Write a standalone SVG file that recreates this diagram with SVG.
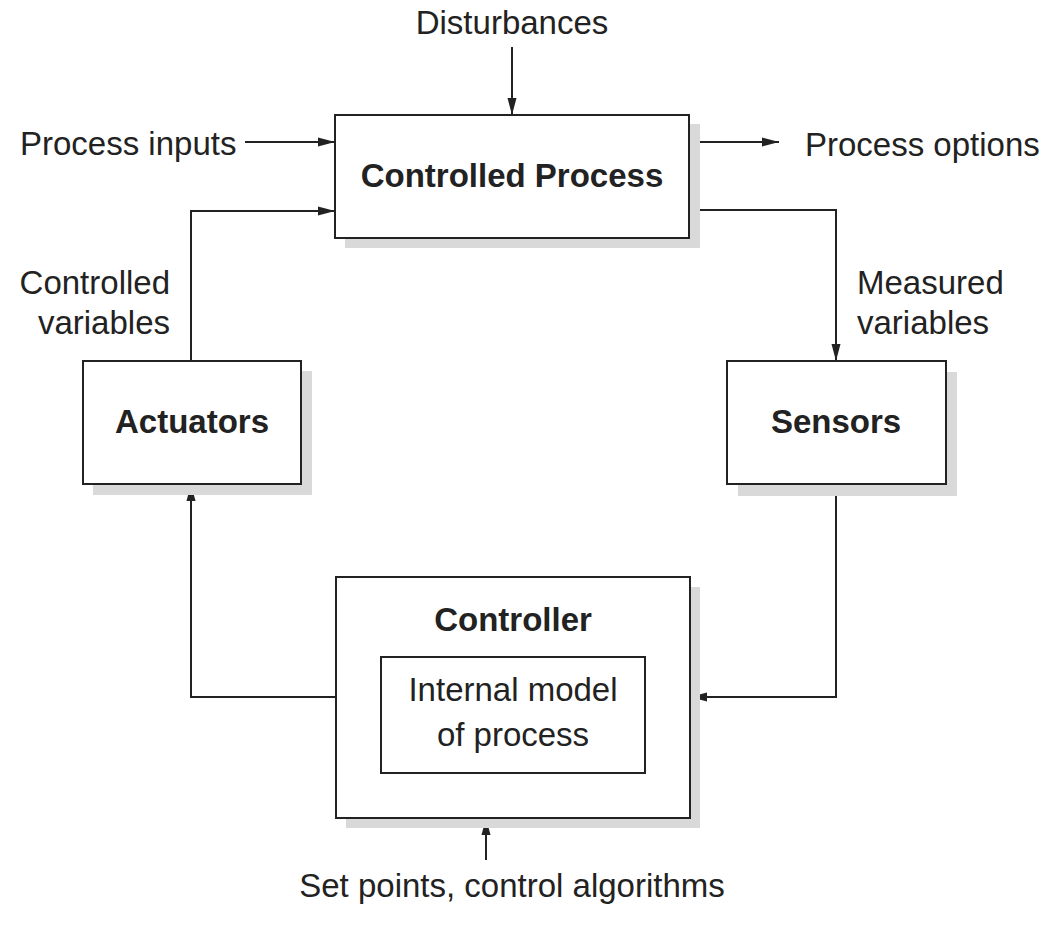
<svg xmlns="http://www.w3.org/2000/svg" width="1049" height="936" viewBox="0 0 1049 936">
<style>
.box{fill:#fff;stroke:#222;stroke-width:2}
.shadow{fill:#d9d9d9}
.t{font-family:"Liberation Sans",Arial,sans-serif;font-size:33px;fill:#222}
.b{font-weight:bold}
.c{stroke:#222;stroke-width:2;fill:none;marker-end:url(#ah)}
</style>
<defs>
<marker id="ah" markerUnits="userSpaceOnUse" markerWidth="18" markerHeight="12" refX="17" refY="6" orient="auto">
<path d="M0,1.5 L17,6 L0,10.5 z" fill="#222"/>
</marker>
</defs>
<rect width="1049" height="936" fill="#fff"/>
<g id="connectors">
<path class="c" d="M512,47 V115"/>
<path class="c" d="M245,142 H335"/>
<path class="c" d="M689,142 H779"/>
<path class="c" d="M191,361 V211 H335"/>
<path class="c" d="M689,210 H836 V361"/>
<path class="c" d="M836,484 V697 H690"/>
<path class="c" d="M336,697 H191 V484"/>
<path class="c" d="M486,860 V818"/>
</g>
<g id="controlled-process">
<rect class="shadow" x="345" y="124" width="355" height="124"/>
<rect class="box" x="335" y="115" width="354" height="123"/>
<text class="t b" x="512" y="187" text-anchor="middle">Controlled Process</text>
</g>
<g id="actuators">
<rect class="shadow" x="93" y="371" width="219" height="124"/>
<rect class="box" x="83" y="361" width="218" height="123"/>
<text class="t b" x="192" y="433" text-anchor="middle">Actuators</text>
</g>
<g id="sensors">
<rect class="shadow" x="738" y="372" width="219" height="124"/>
<rect class="box" x="727" y="361" width="219" height="123"/>
<text class="t b" x="836" y="433" text-anchor="middle">Sensors</text>
</g>
<g id="controller">
<rect class="shadow" x="346" y="587" width="354" height="241"/>
<rect class="box" x="336" y="577" width="354" height="241"/>
<text class="t b" x="513" y="631" text-anchor="middle">Controller</text>
<rect class="box" x="381" y="657" width="264" height="116"/>
<text class="t" x="513" y="701" text-anchor="middle">Internal model</text>
<text class="t" x="513" y="746" text-anchor="middle">of process</text>
</g>
<g id="labels">
<text class="t" x="512" y="34" text-anchor="middle">Disturbances</text>
<text class="t" x="20" y="155">Process inputs</text>
<text class="t" x="805" y="156">Process options</text>
<text class="t" x="170" y="294" text-anchor="end">Controlled</text>
<text class="t" x="170" y="334" text-anchor="end">variables</text>
<text class="t" x="857" y="294">Measured</text>
<text class="t" x="857" y="334">variables</text>
<text class="t" x="512" y="897" text-anchor="middle">Set points, control algorithms</text>
</g>
</svg>
